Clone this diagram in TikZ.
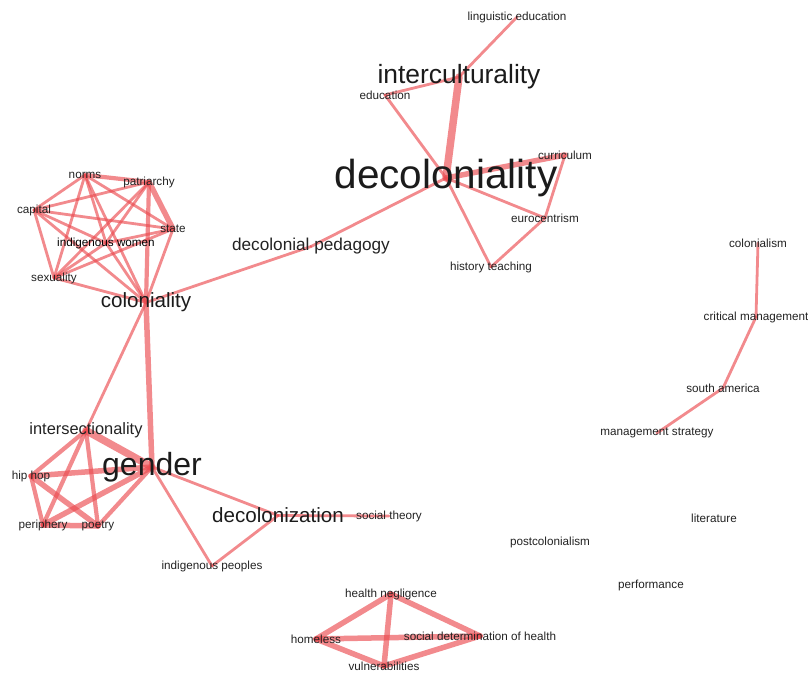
\documentclass[tikz,border=0pt]{standalone}
\usepackage{fontspec}
\setmainfont{Liberation Sans}
\usetikzlibrary{backgrounds}
\definecolor{edgecol}{RGB}{235,75,80}
\definecolor{txt}{RGB}{34,34,34}
\tikzset{
  lbl/.style={inner sep=0pt, text=txt, yshift=-1pt, font=\fontsize{11.7}{13}\selectfont},
  lblA/.style={inner sep=0pt, text=txt, yshift=-1.5pt, font=\fontsize{16.4}{18}\selectfont},
  lblB/.style={inner sep=0pt, text=txt!80!black, yshift=-1.5pt, font=\fontsize{20.6}{22}\selectfont},
  lblC/.style={inner sep=0pt, text=txt!80!black, yshift=-2pt, font=\fontsize{26.4}{28}\selectfont},
  lblD/.style={inner sep=0pt, text=txt!80!black, yshift=-2pt, font=\fontsize{32}{34}\selectfont},
  lblE/.style={inner sep=0pt, text=txt!80!black, yshift=-2pt, font=\fontsize{40.5}{44}\selectfont},
  ed/.style={draw=edgecol, opacity=0.65, line width=2.8pt, line cap=round},
  edB/.style={ed, line width=4.2pt},
  edC/.style={ed, line width=5.5pt},
  edD/.style={ed, line width=7.5pt},
}
\begin{document}
\begin{tikzpicture}[x=1pt,y=-1pt]
\useasboundingbox (0,0) rectangle (808,672);
% cluster coloniality
\node[lbl] (norms) at (85,174) {norms};
\node[lbl] (patr) at (149,181) {patriarchy};
\node[lbl] (capital) at (34,209) {capital};
\node[lbl] (state) at (173,228) {state};
\node[lbl, text=black] (iw) at (106,242) {indigenous women};
\node[lbl] (sex) at (54,277) {sexuality};
\node[lblB] (colo) at (146,301) {coloniality};
% cluster gender
\node[lblA] (inter) at (86,429) {intersectionality};
\node[lbl] (hiphop) at (31,475) {hip hop};
\node[lbl] (peri) at (43,524) {periphery};
\node[lbl] (poetry) at (98,525) {poetry};
\node[lblD] (gender) at (152,465) {gender};
\node[lblB] (decz) at (278,514) {decolonization};
\node[lbl] (soct) at (389,515) {social theory};
\node[lbl] (indp) at (212,565) {indigenous peoples};
% cluster decoloniality
\node[lbl] (linged) at (517,16) {linguistic education};
\node[lblC] (intercul) at (459,75) {interculturality};
\node[lbl] (educ) at (385,94) {education};
\node[lblE] (decol) at (446,176) {decoloniality};
\node[lbl] (curr) at (565,154) {curriculum};
\node[lbl] (euro) at (545,217) {eurocentrism};
\node[lbl] (hist) at (491,266) {history teaching};
\node[inner sep=0pt, text=txt, yshift=-1.5pt, font=\fontsize{17.2}{19}\selectfont] (dped) at (311,245) {decolonial pedagogy};
% cluster management
\node[lbl] (colonialism) at (758,242) {colonialism};
\node[lbl] (critm) at (756,316) {critical management};
\node[lbl] (sam) at (723,387) {south america};
\node[lbl] (mstr) at (657,432) {management strategy};
% isolated
\node[lbl] (lit) at (714,517) {literature};
\node[lbl] (postc) at (550,541) {postcolonialism};
\node[lbl] (perf) at (651,584) {performance};
% cluster health
\node[lbl] (hneg) at (391,593) {health negligence};
\node[lbl] (homeless) at (316,638) {homeless};
\node[lbl] (sdh) at (480,635) {social determination of health};
\node[lbl] (vuln) at (384,665) {vulnerabilities};

\begin{scope}[on background layer]
% cluster coloniality
\foreach \a/\b in {norms/capital, norms/state, norms/sex, norms/colo, norms/iw,
  capital/patr, capital/state, capital/iw, capital/sex, capital/colo,
  patr/sex, patr/iw, state/sex, state/colo, state/iw, sex/colo, iw/colo, sex/iw}
  \draw[ed] (\a.center) -- (\b.center);
\draw[edB] (norms.center) -- (patr.center);
\draw[edC] (patr.center) -- (state.center);
\draw[edB] (patr.center) -- (colo.center);
% links
\draw[ed] (colo.center) -- (dped.center);
\draw[ed] (dped.center) -- (decol.center);
\draw[edC] (colo.center) -- (gender.center);
\draw[ed] (colo.center) -- (inter.center);
% cluster gender
\draw[edD] (inter.center) -- (gender.center);
\draw[edC] (hiphop.center) -- (gender.center);
\draw[edC] (peri.center) -- (gender.center);
\draw[edC] (peri.center) -- (poetry.center);
\draw[edB] (hiphop.center) -- (peri.center);
\draw[edB] (inter.center) -- (hiphop.center);
\draw[edB] (inter.center) -- (peri.center);
\draw[edB] (inter.center) -- (poetry.center);
\draw[edC] (hiphop.center) -- (poetry.center);
\draw[edB] (poetry.center) -- (gender.center);
\draw[ed] (gender.center) -- (decz.center);
\draw[ed] (gender.center) -- (indp.center);
\draw[ed] (indp.center) -- (decz.center);
\draw[ed] (decz.center) -- (soct.center);
% cluster decoloniality
\draw[ed] (linged.center) -- (intercul.center);
\draw[ed] (intercul.center) -- (educ.center);
\draw[edD] (intercul.center) -- (decol.center);
\draw[ed] (educ.center) -- (decol.center);
\draw[edC] (decol.center) -- (curr.center);
\draw[ed] (decol.center) -- (euro.center);
\draw[ed] (decol.center) -- (hist.center);
\draw[ed] (curr.center) -- (euro.center);
\draw[ed] (euro.center) -- (hist.center);
% cluster management
\draw[ed] (colonialism.center) -- (critm.center);
\draw[ed] (critm.center) -- (sam.center);
\draw[ed] (sam.center) -- (mstr.center);
% cluster health
\foreach \a/\b in {hneg/homeless, hneg/sdh, hneg/vuln, homeless/sdh, homeless/vuln, vuln/sdh}
  \draw[edC] (\a.center) -- (\b.center);
\end{scope}
\end{tikzpicture}
\end{document}
